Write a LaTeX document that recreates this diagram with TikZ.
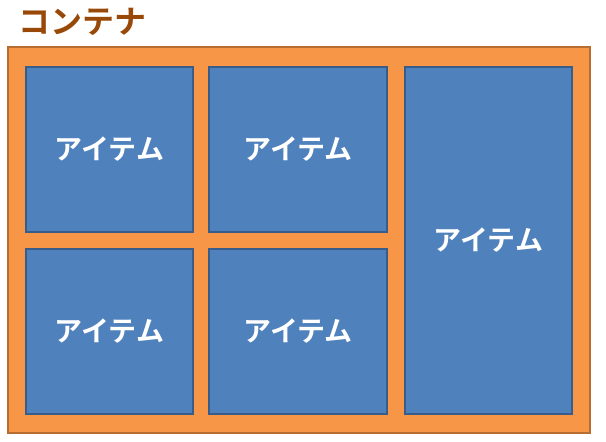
\documentclass[tikz,border=0pt]{standalone}
\usepackage{fontspec}
\newfontfamily\jp{Noto Sans CJK JP}[BoldFont={Noto Sans CJK JP Bold}]
\definecolor{itemblue}{HTML}{4F81BD}
\definecolor{itemedge}{HTML}{385D8A}
\definecolor{contorange}{HTML}{F79646}
\definecolor{contedge}{HTML}{B66D31}
\definecolor{titlebrown}{HTML}{984807}
\begin{document}
\begin{tikzpicture}[x=1pt,y=-1pt,
  itembox/.style={fill=itemblue,draw=itemedge,line width=1.5pt},
  itemtext/.style={text=white,font=\jp\bfseries\fontsize{28}{28}\selectfont},
  contbox/.style={fill=contorange,draw=contedge,line width=1.2pt}]
\useasboundingbox (0,0) rectangle (606,442);
\draw[contbox] (8,47) rectangle (590,433);
\node[anchor=center,text=titlebrown,font=\jp\bfseries\fontsize{32}{32}\selectfont] (title) at (83,22) {コンテナ};
\draw[itembox] (26,67) rectangle (193,232);
\node[itemtext] (a) at (109.5,149.5) {アイテム};
\draw[itembox] (209,67) rectangle (387,232);
\node[itemtext] (b) at (298,149.5) {アイテム};
\draw[itembox] (26,249) rectangle (193,414);
\node[itemtext] (c) at (109.5,331.5) {アイテム};
\draw[itembox] (209,249) rectangle (387,414);
\node[itemtext] (d) at (298,331.5) {アイテム};
\draw[itembox] (405,67) rectangle (572,414);
\node[itemtext] (e) at (488.5,240.5) {アイテム};
\end{tikzpicture}
\end{document}
